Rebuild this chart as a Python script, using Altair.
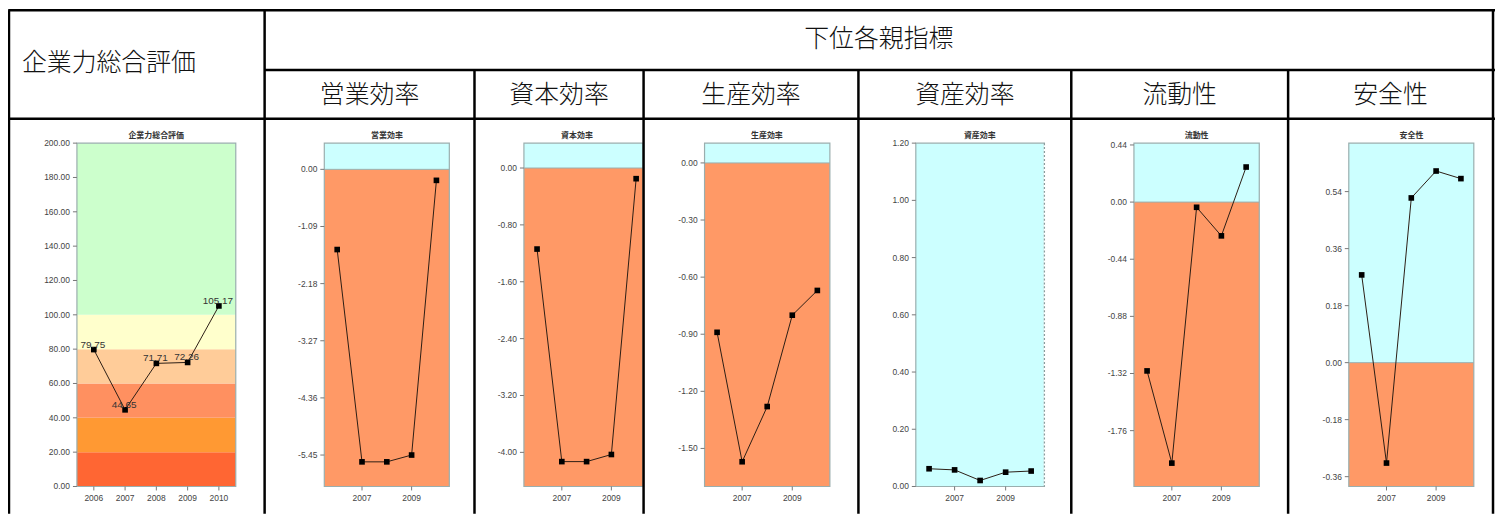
import altair as alt
import pandas as pd

# ---------------- data ----------------
years = [2006, 2007, 2008, 2009, 2010]

header_left = "企業力総合評価"
header_top = "下位各親指標"
header_cols = ["営業効率", "資本効率", "生産効率", "資産効率", "流動性", "安全性"]
panel_titles = ["企業力総合評価", "営業効率", "資本効率", "生産効率", "資産効率", "流動性", "安全性"]

total_eval = [79.75, 44.65, 71.71, 72.26, 105.17]
eigyo = [-1.53, -5.58, -5.58, -5.45, -0.21]
shihon = [-1.14, -4.13, -4.13, -4.03, -0.15]
seisan = [-0.89, -1.57, -1.28, -0.80, -0.67]
shisan = [0.062, 0.058, 0.021, 0.050, 0.054]
ryudo = [-1.30, -2.01, -0.04, -0.26, 0.27]
anzen = [0.277, -0.317, 0.520, 0.605, 0.581]
series = [total_eval, eigyo, shihon, seisan, shisan, ryudo, anzen]

y_domains = [
    [0, 200],
    [-6.05, 0.50],
    [-4.48, 0.35],
    [-1.70, 0.104],
    [0.0, 1.20],
    [-2.19, 0.454],
    [-0.391, 0.693],
]
y_ticks = [
    [0, 20, 40, 60, 80, 100, 120, 140, 160, 180, 200],
    [0.00, -1.09, -2.18, -3.27, -4.36, -5.45],
    [0.00, -0.80, -1.60, -2.40, -3.20, -4.00],
    [0.00, -0.30, -0.60, -0.90, -1.20, -1.50],
    [0.00, 0.20, 0.40, 0.60, 0.80, 1.00, 1.20],
    [0.44, 0.00, -0.44, -0.88, -1.32, -1.76],
    [0.54, 0.36, 0.18, 0.00, -0.18, -0.36],
]
x_ticks = [years, [2007, 2009], [2007, 2009], [2007, 2009], [2007, 2009], [2007, 2009], [2007, 2009]]
x_domains = [
    [2005.46, 2010.54],
    [2005.48, 2010.52],
    [2005.47, 2010.28],
    [2005.50, 2010.50],
    [2005.48, 2010.52],
    [2005.47, 2010.53],
    [2005.48, 2010.52],
]

total_band_edges = [0, 20, 40, 60, 80, 100, 200]

# ---------------- styles / layout ----------------
total_band_colors = ["#FF6633", "#FF9933", "#FF9060", "#FFCC99", "#FFFFCC", "#CCFFCC"]
NEG_COLOR = "#FF9966"
POS_COLOR = "#CCFFFF"
BOX_STROKE = "#9AAEAE"
TICK_COLOR = "#777777"
LABEL_COLOR = "#444444"
NUM_FONT = "Liberation Sans"
CJK_FONT = "Noto Sans CJK JP"

OFF = 8  # page margin


def px(v):
    return v - OFF


W, H = 1495, 507
BOX_TOP = px(142.5)
BOX_BOTTOM = px(487.7)
BOX_X = [(77.3, 237.0), (326.0, 451.7), (526.7, 646.5), (708.3, 834.3),
         (920.7, 1050.0), (1140.0, 1266.0), (1356.0, 1481.7)]
TITLE_X = [157.0, 389.0, 580.0, 771.0, 985.0, 1203.0, 1419.0]

COL_EDGES = [7, 266, 477, 647, 863, 1077, 1295, 1501]
ROW_TOP, ROW_MID, ROW_BOTTOM = 8.8, 69, 118


def panel(i):
    x0, x1 = px(BOX_X[i][0]), px(BOX_X[i][1])
    xs = alt.Scale(domain=x_domains[i], range=[x0, x1], nice=False, zero=False)
    ys = alt.Scale(domain=y_domains[i], range=[BOX_BOTTOM, BOX_TOP], nice=False, zero=False)
    lo, hi = y_domains[i]

    if i == 0:
        bands = pd.DataFrame({"lo": total_band_edges[:-1], "hi": total_band_edges[1:],
                              "c": total_band_colors})
    else:
        rows = []
        if lo < 0:
            rows.append((lo, min(0, hi), NEG_COLOR))
        if hi > 0:
            rows.append((max(0, lo), hi, POS_COLOR))
        bands = pd.DataFrame(rows, columns=["lo", "hi", "c"])

    layers = []
    layers.append(alt.Chart(bands).mark_rect().encode(
        x=alt.value(x0), x2=alt.value(x1),
        y=alt.Y("lo:Q", scale=ys, axis=None), y2="hi:Q",
        color=alt.Color("c:N", scale=None, legend=None)))

    if lo < 0 < hi and i != 0:
        layers.append(alt.Chart(pd.DataFrame({"z": [0]})).mark_rule(
            color=BOX_STROKE, strokeWidth=1).encode(
            x=alt.value(x0), x2=alt.value(x1), y=alt.Y("z:Q", scale=ys, axis=None)))

    layers.append(alt.Chart(pd.DataFrame({"a": [0]})).mark_rect(
        fillOpacity=0, stroke=BOX_STROKE, strokeWidth=1.2).encode(
        x=alt.value(x0), x2=alt.value(x1), y=alt.value(BOX_TOP), y2=alt.value(BOX_BOTTOM)))

    if i == 4:
        # dotted right edge on the asset-efficiency panel
        layers.append(alt.Chart(pd.DataFrame({"a": [0]})).mark_rule(
            color="white", strokeWidth=1.4).encode(
            x=alt.value(x1), y=alt.value(BOX_TOP + 1), y2=alt.value(BOX_BOTTOM - 1)))
        layers.append(alt.Chart(pd.DataFrame({"a": [0]})).mark_rule(
            color="#8A9C9C", strokeWidth=1.2, strokeDash=[2, 2]).encode(
            x=alt.value(x1), y=alt.value(BOX_TOP), y2=alt.value(BOX_BOTTOM)))

    tdf = pd.DataFrame({"v": y_ticks[i], "lab": [f"{t:.2f}" for t in y_ticks[i]]})
    layers.append(alt.Chart(tdf).mark_rule(color=TICK_COLOR, strokeWidth=1).encode(
        x=alt.value(x0 - 4), x2=alt.value(x0), y=alt.Y("v:Q", scale=ys, axis=None)))
    layers.append(alt.Chart(tdf).mark_text(
        align="right", baseline="middle", fontSize=8.5, font=NUM_FONT, color=LABEL_COLOR).encode(
        x=alt.value(x0 - 7), y=alt.Y("v:Q", scale=ys, axis=None), text="lab:N"))

    xdf = pd.DataFrame({"year": x_ticks[i], "lab": [str(y) for y in x_ticks[i]]})
    layers.append(alt.Chart(xdf).mark_rule(color=TICK_COLOR, strokeWidth=1).encode(
        x=alt.X("year:Q", scale=xs, axis=None),
        y=alt.value(BOX_BOTTOM), y2=alt.value(BOX_BOTTOM + 4)))
    layers.append(alt.Chart(xdf).mark_text(
        baseline="middle", fontSize=8.5, font=NUM_FONT, color=LABEL_COLOR).encode(
        x=alt.X("year:Q", scale=xs, axis=None), y=alt.value(BOX_BOTTOM + 12), text="lab:N"))

    df = pd.DataFrame({"year": years, "v": series[i],
                       "lab": [f"{v:.2f}" for v in series[i]]})
    base = alt.Chart(df).encode(
        x=alt.X("year:Q", scale=xs, axis=None), y=alt.Y("v:Q", scale=ys, axis=None))
    layers.append(base.mark_line(color="#2b1d14", strokeWidth=1))
    layers.append(base.mark_square(size=32, color="black", opacity=1))
    if i == 0:
        layers.append(base.mark_text(
            fontSize=10, font=NUM_FONT, color="#333333", dx=-1, dy=-5, baseline="middle").encode(
            text="lab:N"))

    layers.append(alt.Chart(pd.DataFrame({"t": [panel_titles[i]]})).mark_text(
        fontSize=8, fontWeight="bold", font=CJK_FONT, color="#333333", baseline="middle").encode(
        x=alt.value(px(TITLE_X[i])), y=alt.value(BOX_TOP - 7.5), text="t:N"))

    return alt.layer(*layers)


panels = [panel(i) for i in range(7)]

# ---------------- table frame ----------------
lines = [
    (px(COL_EDGES[0]) + 1.2, px(1503), px(ROW_TOP), px(ROW_TOP)),
    (px(COL_EDGES[1]), px(1503), px(ROW_MID), px(ROW_MID)),
    (px(COL_EDGES[0]), px(1503), px(ROW_BOTTOM), px(ROW_BOTTOM)),
    (1.0, 1.0, px(ROW_TOP), H),
    (px(COL_EDGES[1]), px(COL_EDGES[1]), px(ROW_TOP), H),
    (px(COL_EDGES[-1]), px(COL_EDGES[-1]), px(ROW_TOP), H),
]
for e in COL_EDGES[2:-1]:
    lines.append((px(e), px(e), px(ROW_MID), H))
ldf = pd.DataFrame(lines, columns=["x", "x2", "y", "y2"])
frame = alt.Chart(ldf).mark_rule(color="black", strokeWidth=2.5).encode(
    x=alt.X("x:Q", scale=None), x2="x2:Q", y=alt.Y("y:Q", scale=None), y2="y2:Q")

HEAD_STYLE = dict(baseline="middle", fontSize=25, font=CJK_FONT, fontWeight=300, color="#111111")
texts = []
texts.append(alt.Chart(pd.DataFrame({"t": [header_left]})).mark_text(
    align="left", **HEAD_STYLE).encode(
    x=alt.value(px(22)), y=alt.value(px(62)), text="t:N"))
texts.append(alt.Chart(pd.DataFrame({"t": [header_top]})).mark_text(
    align="center", **HEAD_STYLE).encode(
    x=alt.value(px((COL_EDGES[1] + COL_EDGES[-1]) / 2)), y=alt.value(px(38)), text="t:N"))
for k, name in enumerate(header_cols):
    cx = (COL_EDGES[k + 1] + COL_EDGES[k + 2]) / 2
    texts.append(alt.Chart(pd.DataFrame({"t": [name]})).mark_text(
        align="center", **HEAD_STYLE).encode(
        x=alt.value(px(cx)), y=alt.value(px(94)), text="t:N"))

chart = alt.layer(*panels, frame, *texts).resolve_scale(
    x="independent", y="independent"
).properties(
    width=W, height=H, padding=0, autosize="none", background="white"
).configure_view(stroke=None)

chart.save("out.html", embed_options={"renderer": "svg", "actions": False})
